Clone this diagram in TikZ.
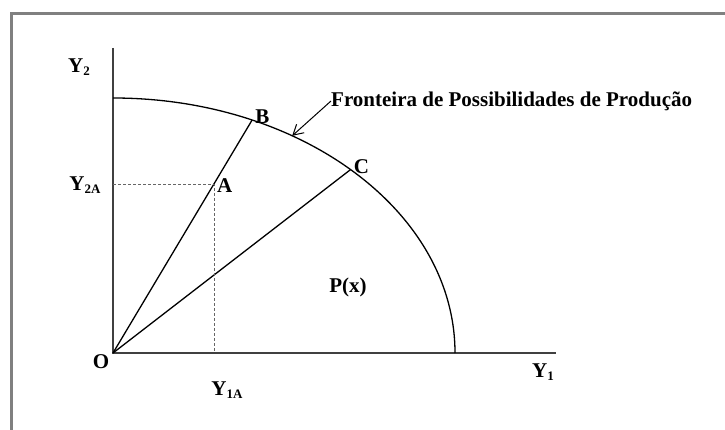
\documentclass[tikz,border=0pt]{standalone}
\usepackage{fontspec}
\setmainfont{Liberation Serif}
\usetikzlibrary{arrows.meta, positioning, calc}

\newcommand{\lowidx}[1]{\raisebox{-3pt}{\fontsize{13}{13}\selectfont #1}}

\begin{document}
\begin{tikzpicture}[
    x=1pt, y=-1pt,
    >={Straight Barb[length=3.5mm,width=4mm]},
    axis/.style  = {line width=2pt, black!75},
    ray/.style   = {line width=1.3pt},
    guide/.style = {line width=0.6pt, black!60, dash pattern=on 3pt off 2pt},
    lbl/.style   = {font=\bfseries\fontsize{21}{23}\selectfont, inner sep=0pt},
]
\useasboundingbox (0,0) rectangle (725,430);

% moldura
\draw[line width=3pt, black!50] (11,432) |- (727,14);

\coordinate (O)    at (113,353);
\coordinate (ytop) at (113,48);
\coordinate (xend) at (556,353);
\coordinate (ftop) at ($(O)+(90:342pt and 255pt)$);
\coordinate (B)    at ($(O)+(66:342pt and 255pt)$);
\coordinate (C)    at ($(O)+(46:342pt and 255pt)$);
\coordinate (A)    at ($(O)!0.725!(B)$);
\coordinate (tip)  at ($(O)+(58.4:342pt and 255pt)$);

% eixos e fronteira
\draw[axis] (ytop) -- (O) -- (xend);
\draw[ray] (ftop) arc[start angle=90, end angle=0, x radius=342pt, y radius=255pt];

\draw[ray] (O) -- (B);
\draw[ray] (O) -- (C);
\draw[guide] (O |- A) -- (A) -- (A |- O);

\node[lbl] (labO)   at (101,362) {O};
\node[lbl] (labY2)  at (79,67)   {Y\lowidx{2}};
\node[lbl] (labY2A) at (85,185)  {Y\lowidx{2A}};
\node[lbl] (labY1)  at (543,372) {Y\lowidx{1}};
\node[lbl] (labY1A) at (227,390) {Y\lowidx{1A}};
\node[lbl, anchor=west] (labA) at ([xshift=3pt,yshift=-1pt]A) {A};
\node[lbl, anchor=west] (labB) at ([xshift=3pt,yshift=3pt]B)  {B};
\node[lbl, anchor=west] (labC) at ([xshift=3pt,yshift=3pt]C)  {C};
\node[lbl] (labP) at (348,287) {P(x)};

\node[lbl, anchor=west] (fpp) at (331,101) {Fronteira de Possibilidades de Produção};
\draw[->, line width=1pt] (fpp.west) -- (tip);

\end{tikzpicture}
\end{document}
